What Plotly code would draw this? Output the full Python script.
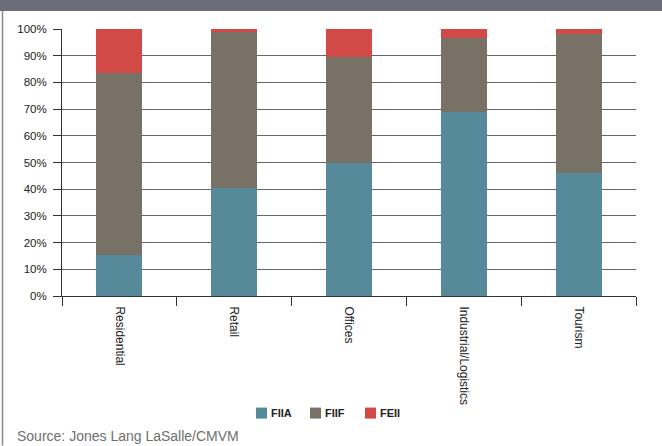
import plotly.graph_objects as go

categories = ["Residential", "Retail", "Offices", "Industrial/Logistics", "Tourism"]
fiia = [0.154, 0.406, 0.499, 0.691, 0.459]
fiif = [0.680, 0.584, 0.396, 0.276, 0.523]
feii = [0.166, 0.010, 0.105, 0.033, 0.018]
series_names = ["FIIA", "FIIF", "FEII"]
series_colors = ["#568a9a", "#777166", "#d24a48"]
y_ticks = [i / 10 for i in range(11)]
y_labels = [f"{i*10}%" for i in range(11)]

W, H = 662, 446
L, R, T, B = 62, 636, 29, 296.3

def px(x):
    return (x - L) / (R - L)

def py(y):
    return (B - y) / (B - T)

font_fam = "Arial, Liberation Sans, sans-serif"

fig = go.Figure()
for name, vals, col in zip(series_names, [fiia, fiif, feii], series_colors):
    fig.add_trace(go.Bar(x=categories, y=vals, name=name, marker=dict(color=col, line=dict(width=0)),
                         width=0.4, showlegend=False))

shapes = [
    dict(type="rect", xref="paper", yref="paper", x0=px(0), x1=px(W), y0=py(11), y1=py(0),
         fillcolor="#6b6e78", line=dict(width=0), layer="above"),
    dict(type="line", xref="paper", yref="paper", x0=px(2.5), x1=px(2.5), y0=py(11), y1=py(H),
         line=dict(color="#8a8a8a", width=1.5)),
]
annotations = [
    dict(text="Source: Jones Lang LaSalle/CMVM", xref="paper", yref="paper", x=px(15), y=py(436),
         xanchor="left", yanchor="middle", showarrow=False,
         font=dict(size=14, color="#6f6f6f", family=font_fam)),
]
# manual legend
leg_x = [256, 310, 365]
for lx, name, col in zip(leg_x, series_names, series_colors):
    shapes.append(dict(type="rect", xref="paper", yref="paper", x0=px(lx), x1=px(lx + 11),
                       y0=py(419), y1=py(408), fillcolor=col, line=dict(width=0)))
    annotations.append(dict(text=f"<b>{name}</b>", xref="paper", yref="paper", x=px(lx + 12.5), y=py(413.5),
                            xanchor="left", yanchor="middle", showarrow=False,
                            font=dict(size=11, color="#222", family=font_fam)))

fig.update_layout(
    width=W, height=H,
    barmode="stack",
    margin=dict(l=L, r=W - R, t=T, b=H - B, autoexpand=False),
    paper_bgcolor="white", plot_bgcolor="white",
    font=dict(family=font_fam, size=11, color="#222"),
    showlegend=False,
    xaxis=dict(type="category", tickson="boundaries", ticks="outside", ticklen=9, tickcolor="#333",
               showline=True, linecolor="#333", linewidth=1, tickangle=90, showgrid=False,
               ticklabelstandoff=7,
               tickfont=dict(size=12, color="#222"), range=[-0.5, 4.5]),
    yaxis=dict(range=[0, 1], tickvals=y_ticks, ticktext=y_labels, ticks="outside", ticklen=8,
               tickcolor="#333", showline=True, linecolor="#333", linewidth=1,
               showgrid=True, gridcolor="#666", gridwidth=1, zeroline=False,
               ticklabelstandoff=4,
               tickfont=dict(size=11.5, color="#222")),
    shapes=shapes,
    annotations=annotations,
)

fig.write_html("out.html")
